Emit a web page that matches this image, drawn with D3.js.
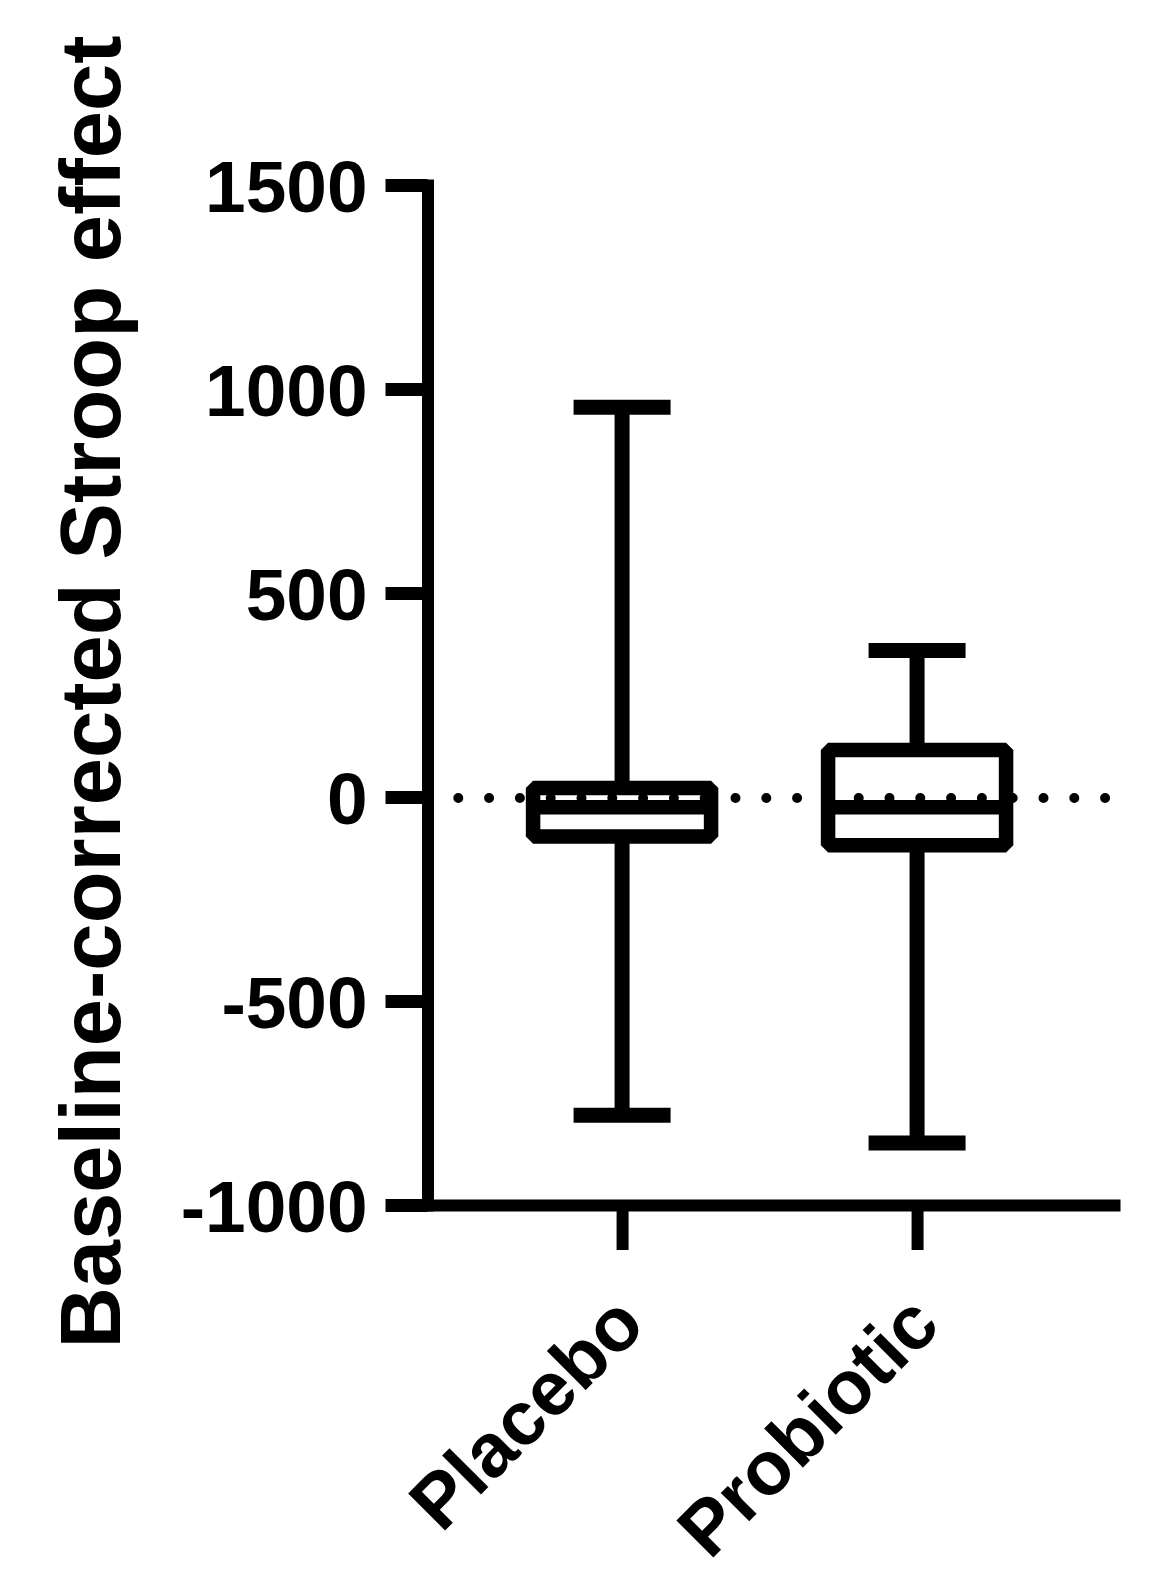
<!DOCTYPE html>
<html lang="en">
<head>
<meta charset="utf-8">
<title>Baseline-corrected Stroop effect</title>
<script src="https://d3js.org/d3.v7.min.js"></script>
<style>
  body { margin: 0; background: #fff; }
  svg text { font-family: "Liberation Sans", Arial, sans-serif; font-weight: bold; fill: #000; }
</style>
</head>
<body>
<div id="chart"></div>
<script>
// data
var groups = ["Placebo", "Probiotic"];
var whiskerLow = [-780, -848];
var q1 = [-97, -118];
var median = [-25, -25];
var q3 = [22, 115];
var whiskerHigh = [955, 359];
var yTicks = [-1000, -500, 0, 500, 1000, 1500];

var W = 1152, H = 1592;
var svg = d3.select("#chart").append("svg")
    .attr("width", W)
    .attr("height", H);

var axisX = 427.5, axisY = 1205;

var y = d3.scaleLinear().domain([-1000, 1500]).range([axisY, 185]);
var x = d3.scalePoint().domain(groups).range([axisX, 1114]).padding(0.6636).align(0.497);

// y axis
var yAxis = svg.append("g")
    .attr("transform", "translate(" + axisX + ",0)")
    .call(d3.axisLeft(y).tickValues(yTicks).tickFormat(d => String(d)).tickSize(42).tickSizeOuter(0).tickPadding(18));
yAxis.select(".domain").attr("stroke-width", 12).attr("stroke-linecap", "square");
yAxis.selectAll(".tick line").attr("stroke-width", 13);
yAxis.selectAll(".tick text")
    .attr("dy", "0.36em")
    .style("font-size", "73px");

// x axis
var xAxis = svg.append("g")
    .attr("transform", "translate(0," + axisY + ")")
    .call(d3.axisBottom(x).tickSize(45).tickSizeOuter(0));
xAxis.select(".domain").attr("stroke-width", 12).attr("stroke-linecap", "square");
xAxis.selectAll(".tick line").attr("stroke-width", 12);
xAxis.selectAll(".tick text")
    .attr("y", 0).attr("dy", 0)
    .attr("text-anchor", "end")
    .attr("transform", "translate(25,123) rotate(-45)")
    .style("font-size", "76px");

// axis title
svg.append("text")
    .attr("transform", "translate(120,692) rotate(-90)")
    .attr("text-anchor", "middle")
    .style("font-size", "85px")
    .text("Baseline-corrected Stroop effect");

var boxW = 178, capW = 97;

var box = svg.selectAll("g.box")
    .data(groups)
    .enter().append("g")
    .attr("class", "box");

// whiskers
box.append("line")
    .attr("x1", d => x(d)).attr("x2", d => x(d))
    .attr("y1", (d, i) => y(whiskerHigh[i])).attr("y2", (d, i) => y(q3[i]))
    .attr("stroke", "#000").attr("stroke-width", 15);
box.append("line")
    .attr("x1", d => x(d)).attr("x2", d => x(d))
    .attr("y1", (d, i) => y(q1[i])).attr("y2", (d, i) => y(whiskerLow[i]))
    .attr("stroke", "#000").attr("stroke-width", 15);
box.append("line")
    .attr("x1", d => x(d) - capW / 2).attr("x2", d => x(d) + capW / 2)
    .attr("y1", (d, i) => y(whiskerHigh[i])).attr("y2", (d, i) => y(whiskerHigh[i]))
    .attr("stroke", "#000").attr("stroke-width", 15);
box.append("line")
    .attr("x1", d => x(d) - capW / 2).attr("x2", d => x(d) + capW / 2)
    .attr("y1", (d, i) => y(whiskerLow[i])).attr("y2", (d, i) => y(whiskerLow[i]))
    .attr("stroke", "#000").attr("stroke-width", 15);

// box
box.append("rect")
    .attr("x", d => x(d) - boxW / 2)
    .attr("width", boxW)
    .attr("y", (d, i) => y(q3[i]))
    .attr("height", (d, i) => y(q1[i]) - y(q3[i]))
    .attr("fill", "#fff")
    .attr("stroke", "#000")
    .attr("stroke-width", 14.5)
    .attr("stroke-linejoin", "bevel");

// median
box.append("line")
    .attr("x1", d => x(d) - boxW / 2).attr("x2", d => x(d) + boxW / 2)
    .attr("y1", (d, i) => y(median[i])).attr("y2", (d, i) => y(median[i]))
    .attr("stroke", "#000").attr("stroke-width", 14.5);

// dotted zero line
svg.append("line")
    .attr("x1", axisX).attr("x2", 1117)
    .attr("y1", y(0) + 1).attr("y2", y(0) + 1)
    .attr("stroke", "#000")
    .attr("stroke-width", 10)
    .attr("stroke-linecap", "round")
    .attr("stroke-dasharray", "0 30.8");
</script>
</body>
</html>
